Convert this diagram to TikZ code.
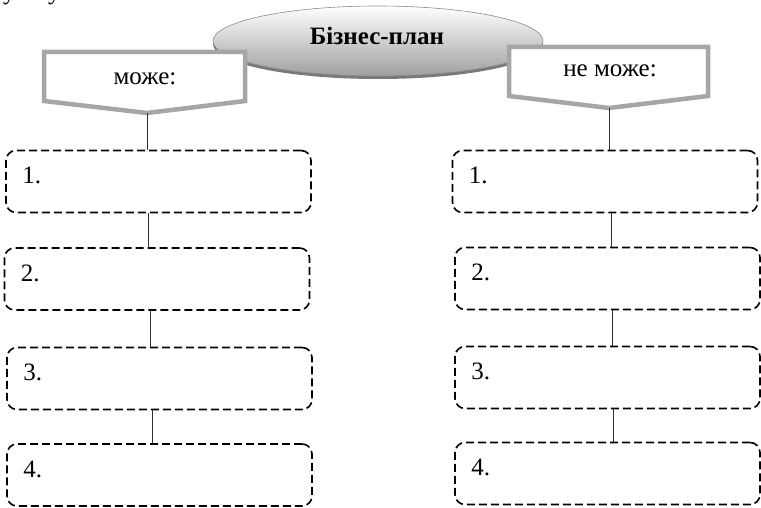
\documentclass[tikz,border=0pt]{standalone}
\usepackage{fontspec}
\setmainfont{Liberation Serif}
\usetikzlibrary{shapes.geometric,shadows}
\definecolor{tagline}{HTML}{A6A6A6}
\definecolor{linkgray}{HTML}{303030}
\begin{document}
\begin{tikzpicture}[x=1pt,y=-1pt,
  every node/.style={font=\fontsize{25}{30}\selectfont},
  dbox/.style={draw=black, line width=1.6pt, dash pattern=on 8pt off 4pt,
    rounded corners=10pt, minimum width=305pt, minimum height=62pt, inner sep=0pt},
  num/.style={anchor=base west, inner sep=0pt},
  tag/.style={draw=tagline, line width=4.5pt, fill=white, line join=miter},
  link/.style={draw=linkgray, line width=1pt},
  oval/.style={ellipse, minimum width=330pt, minimum height=70pt, inner sep=0pt,
    draw=gray!90, line width=0.6pt, top color=white, bottom color=gray!75,
    drop shadow={shadow xshift=0pt, shadow yshift=-3pt, opacity=0.75, fill=black!70}}
]
\useasboundingbox (0,0) rectangle (761,508);

% fragments of the previous line of text
\node[num] (u1) at (3,0) {у};
\node[num] (u2) at (48,0) {у};

% title
\node[oval] (plan) at (378,41) {};
\node[anchor=base, inner sep=0pt, font=\fontsize{25}{30}\selectfont\bfseries] (plantxt) at (377,45) {Бізнес-план};

% heading tags
\draw[tag] (44,52) -- (245,52) -- (245,101) -- (147,113) -- (44,101) -- cycle;
\coordinate (tipL) at (147,113);
\node[anchor=base, inner sep=0pt] (can) at (145,85) {може:};

\draw[tag] (509,47) -- (708,47) -- (708,96) -- (609,108) -- (509,96) -- cycle;
\coordinate (tipR) at (609,108);
\node[anchor=base, inner sep=0pt] (cannot) at (610,77) {не може:};

% left column
\node[dbox] (L1) at (158.5,181.5) {};
\node[dbox] (L2) at (157,279) {};
\node[dbox] (L3) at (159.5,378.5) {};
\node[dbox] (L4) at (159.5,475) {};
\node[num] (l1) at ([xshift=17pt,yshift=-34pt]L1.north west) {1.};
\node[num] (l2) at ([xshift=17pt,yshift=-34pt]L2.north west) {2.};
\node[num] (l3) at ([xshift=17pt,yshift=-34pt]L3.north west) {3.};
\node[num] (l4) at ([xshift=17pt,yshift=-34pt]L4.north west) {4.};

% right column
\node[dbox] (R1) at (605,181.5) {};
\node[dbox] (R2) at (607.5,278.5) {};
\node[dbox] (R3) at (607.5,377.5) {};
\node[dbox] (R4) at (607.5,473.5) {};
\node[num] (r1) at ([xshift=17pt,yshift=-34pt]R1.north west) {1.};
\node[num] (r2) at ([xshift=17pt,yshift=-34pt]R2.north west) {2.};
\node[num] (r3) at ([xshift=17pt,yshift=-34pt]R3.north west) {3.};
\node[num] (r4) at ([xshift=17pt,yshift=-34pt]R4.north west) {4.};

% connector columns
\coordinate (xa) at (148,0);
\coordinate (xb) at (150,0);
\coordinate (xc) at (152,0);
\coordinate (xd) at (611,0);
\coordinate (xe) at (612,0);
\coordinate (xf) at (613,0);

\draw[link] (tipL) -- (tipL |- L1.north);
\draw[link] (L1.south -| xa) -- (L2.north -| xa);
\draw[link] (L2.south -| xb) -- (L3.north -| xb);
\draw[link] (L3.south -| xc) -- (L4.north -| xc);

\draw[link] (tipR) -- (tipR |- R1.north);
\draw[link] (R1.south -| xd) -- (R2.north -| xd);
\draw[link] (R2.south -| xe) -- (R3.north -| xe);
\draw[link] (R3.south -| xf) -- (R4.north -| xf);
\end{tikzpicture}
\end{document}
